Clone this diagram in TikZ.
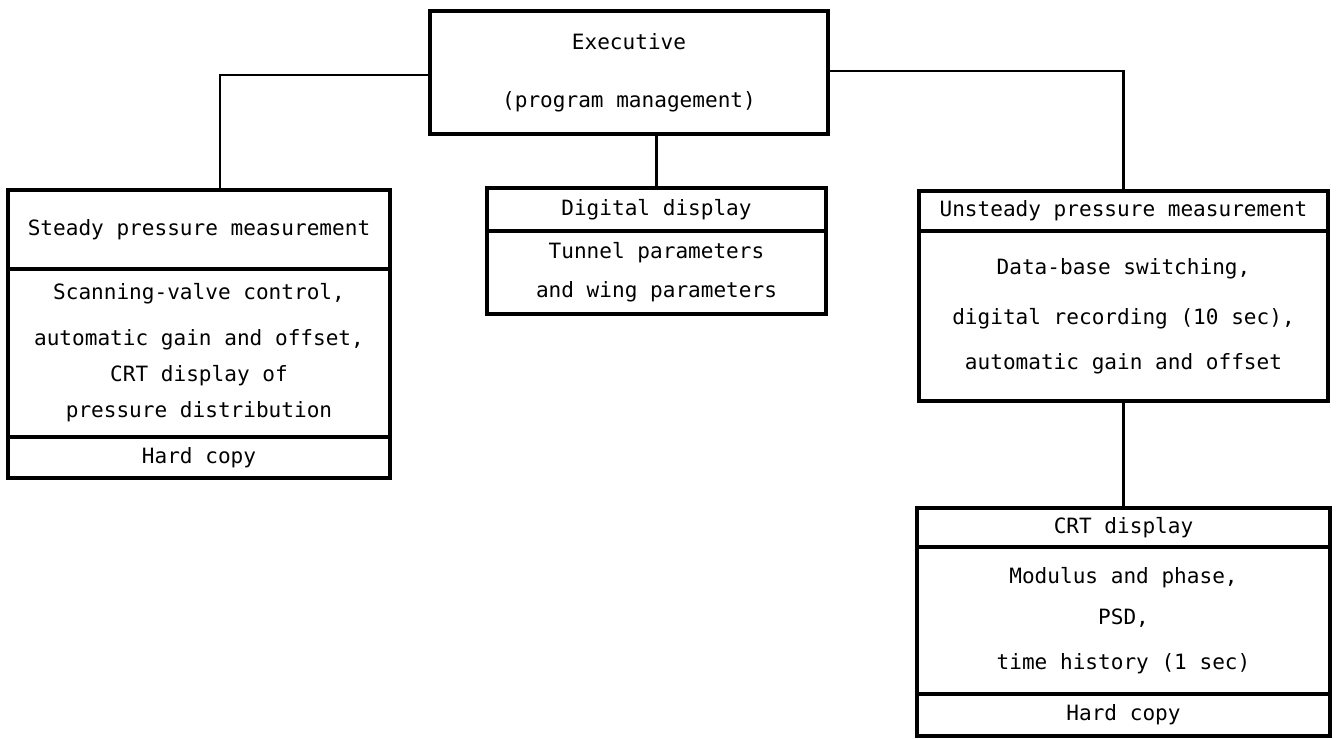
\documentclass[tikz,border=0pt]{standalone}
\usepackage{fontspec}
\setmainfont{DejaVu Sans Mono}
\begin{document}
\begin{tikzpicture}[x=0.75pt,y=-0.75pt,
  box/.style={draw, line width=2.4pt, inner sep=0pt, align=center,
    font=\fontsize{15.8}{27}\selectfont},
  conn/.style={line width=1.7pt}]
\useasboundingbox (0,0) rectangle (1339,739);
% Executive
\node[box, minimum width=298.5pt, minimum height=92.25pt] (exec) at (629,72.5)
  {Executive\\[16.5pt](program management)};
% Steady
\node[box, minimum width=286.5pt, minimum height=59.25pt] (st1) at (199,229.5)
  {Steady pressure measurement};
\node[box, minimum width=286.5pt, minimum height=126pt] (st2) at (199,353)
  {Scanning-valve control,\\[7.5pt]automatic gain and offset,\\CRT display of\\pressure distribution};
\node[box, minimum width=286.5pt, minimum height=30.75pt] (st3) at (199,457.5)
  {Hard copy};
% Digital display
\node[box, minimum width=254.25pt, minimum height=32.25pt] (dg1) at (656.5,209.5)
  {Digital display};
\node[box, minimum width=254.25pt, minimum height=62.25pt] (dg2) at (656.5,272.5)
  {Tunnel parameters\\[2pt] and wing parameters};
% Unsteady
\node[box, minimum width=306.75pt, minimum height=30pt] (un1) at (1123.5,211)
  {Unsteady pressure measurement};
\node[box, minimum width=306.75pt, minimum height=127.5pt] (un2) at (1123.5,316)
  {Data-base switching,\\[10.5pt]digital recording (10 sec),\\[7pt]automatic gain and offset};
% CRT
\node[box, minimum width=309.75pt, minimum height=29.25pt] (cr1) at (1123.5,527.5)
  {CRT display};
\node[box, minimum width=309.75pt, minimum height=110.25pt] (cr2) at (1123.5,620.5)
  {Modulus and phase,\\[4pt]PSD,\\[7pt]time history (1 sec)};
\node[box, minimum width=309.75pt, minimum height=31.5pt] (cr3) at (1123.5,715)
  {Hard copy};
% connectors
\coordinate (jL) at (220,190);
\draw[conn] ([yshift=-1.9pt]exec.west) -| (jL);
\draw[conn] ([yshift=1.1pt]exec.east) -| (un1.north);
\draw[conn] (exec.south -| dg1.north) -- (dg1.north);
\draw[conn] (un2.south) -- (cr1.north);
\end{tikzpicture}
\end{document}
